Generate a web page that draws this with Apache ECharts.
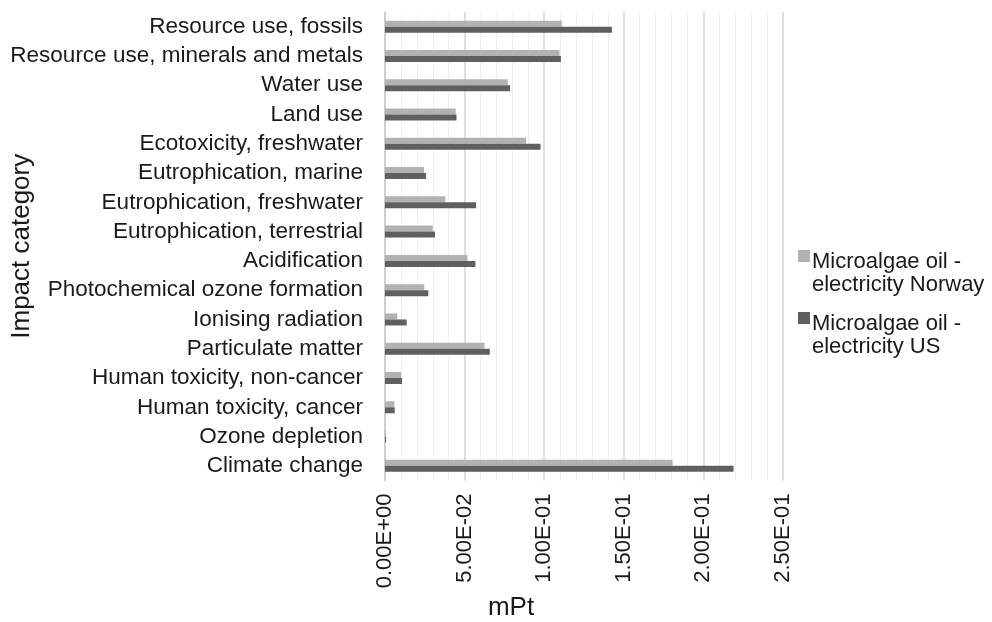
<!DOCTYPE html>
<html>
<head>
<meta charset="utf-8">
<script src="https://cdn.jsdelivr.net/npm/echarts@6/dist/echarts.min.js"></script>
<style>
  html, body { margin: 0; padding: 0; background: #fff; }
  #chart { width: 992px; height: 622px; }
</style>
</head>
<body>
<div id="chart"></div>
<script>
// impact categories, top to bottom as in the figure
var categories = ['Resource use, fossils', 'Resource use, minerals and metals', 'Water use', 'Land use',
  'Ecotoxicity, freshwater', 'Eutrophication, marine', 'Eutrophication, freshwater', 'Eutrophication, terrestrial',
  'Acidification', 'Photochemical ozone formation', 'Ionising radiation', 'Particulate matter',
  'Human toxicity, non-cancer', 'Human toxicity, cancer', 'Ozone depletion', 'Climate change'];

var norway = [0.1111, 0.1096, 0.0771, 0.0444, 0.0887, 0.0245, 0.0379, 0.0300,
  0.0518, 0.0247, 0.0077, 0.0625, 0.0101, 0.0059, 0.0006, 0.1807];
var us = [0.1425, 0.1105, 0.0786, 0.0449, 0.0977, 0.0258, 0.0572, 0.0314,
  0.0568, 0.0272, 0.0136, 0.0658, 0.0107, 0.0061, 0.0007, 0.2189];

var seriesNames = ['Microalgae oil -\nelectricity Norway', 'Microalgae oil -\nelectricity US'];

function sci(v) {
  var s = v.toExponential(2).toUpperCase();
  var p = s.split('E');
  var sign = p[1].charAt(0);
  var e = p[1].slice(1);
  if (e.length < 2) e = '0' + e;
  return p[0] + 'E' + sign + e;
}

var chart = echarts.init(document.getElementById('chart'));
var font = '"Liberation Sans", Arial, sans-serif';

chart.setOption({
  color: ['#b2b2b2', '#5f5f5f'],
  textStyle: { fontFamily: font },
  animation: false,
  grid: { left: 385, right: 209, top: 12, bottom: 141.5, outerBoundsMode: 'none', containLabel: false },
  legend: {
    orient: 'vertical',
    left: 798,
    top: 250,
    padding: 0,
    itemWidth: 12,
    itemHeight: 46,
    itemGap: 16,
    icon: 'path://M0,0h12v12h-12z M0,46h0.01v0.01h-0.01z',
    textStyle: { fontSize: 22, color: '#1a1a1a', lineHeight: 23, fontFamily: font, padding: [0, 0, 0, -3] },
    data: seriesNames
  },
  xAxis: {
    type: 'value',
    min: 0,
    max: 0.25,
    interval: 0.05,
    name: 'mPt',
    nameLocation: 'middle',
    nameGap: 114,
    nameMoveOverlap: false,
    nameTextStyle: { fontSize: 26, color: '#1a1a1a', padding: [0, 146, 0, 0] },
    axisLine: { show: false },
    axisTick: { show: false },
    minorTick: { show: false, splitNumber: 5 },
    axisLabel: {
      rotate: 90,
      fontSize: 22,
      color: '#1a1a1a',
      margin: 13,
      formatter: sci
    },
    splitLine: { show: true, lineStyle: { color: '#d4d4d4', width: 1.5 } },
    minorSplitLine: { show: true, lineStyle: { color: '#eeeeee', width: 1 } }
  },
  yAxis: {
    type: 'category',
    inverse: true,
    data: categories,
    name: 'Impact category',
    nameLocation: 'middle',
    nameGap: 350,
    nameMoveOverlap: false,
    nameTextStyle: { fontSize: 26, color: '#1a1a1a' },
    axisLine: { show: true, lineStyle: { color: '#c8c8c8', width: 1.5 } },
    axisTick: { show: false },
    axisLabel: { interval: 0, fontSize: 22.5, color: '#1a1a1a', margin: 22 }
  },
  series: [
    { name: seriesNames[0], type: 'bar', data: norway, barWidth: 6, barGap: '0%' },
    { name: seriesNames[1], type: 'bar', data: us, barWidth: 6, barGap: '0%' }
  ]
});
</script>
</body>
</html>
